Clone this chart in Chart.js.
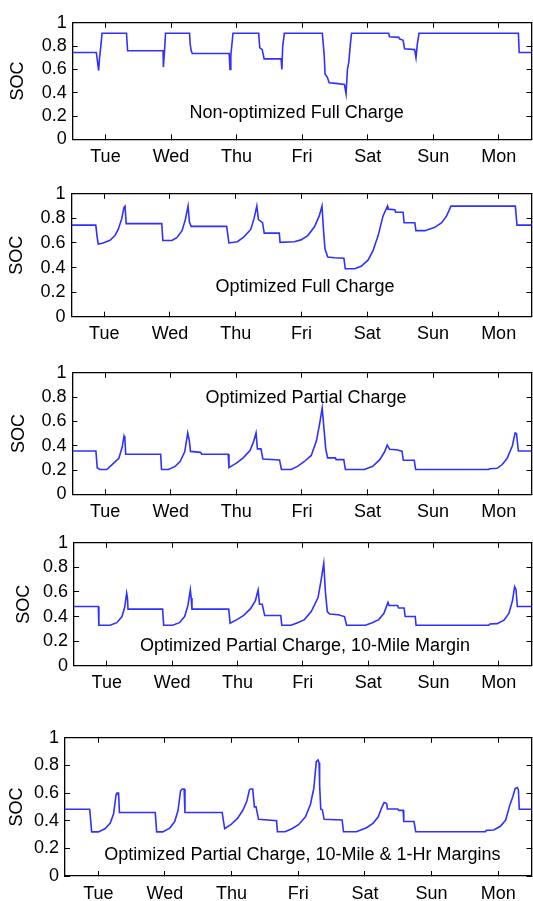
<!DOCTYPE html>
<html>
<head>
<meta charset="utf-8">
<script src="https://cdn.jsdelivr.net/npm/chart.js@4.4.1/dist/chart.umd.min.js"></script>
<style>
  html, body { margin: 0; padding: 0; background: #fff; }
  body { width: 533px; height: 901px; position: relative; overflow: hidden; }
  canvas { position: absolute; left: 0; }
</style>
</head>
<body>
<canvas id="c1"></canvas>
<canvas id="c2"></canvas>
<canvas id="c3"></canvas>
<canvas id="c4"></canvas>
<canvas id="c5"></canvas>
<script>
// week axis: hours from the start of the trace, one tick per day
const dayTicks = [12, 36, 60, 84, 108, 132, 156];
const dayLabels = ['Tue', 'Wed', 'Thu', 'Fri', 'Sat', 'Sun', 'Mon'];
const socTicks = [0, 0.2, 0.4, 0.6, 0.8, 1];

// non-optimized full charge
const hours1 = [0, 8.65, 8.9, 9.5, 9.8, 10.3, 10.75, 19.7, 20.1, 33.1, 33.2, 33.6, 34.0, 42.8, 43.0, 43.4, 43.8, 57.3, 57.6, 57.9, 58.7, 68.1, 68.5, 69.4, 70.1, 76.3, 76.6, 76.9, 77.5, 91.4, 92.1, 92.4, 93.3, 93.9, 96.4, 99.5, 100.1, 100.6, 101.1, 101.6, 102.1, 115.7, 116.0, 119.4, 119.8, 121.0, 121.5, 125.2, 125.7, 126.2, 126.8, 163.2, 163.5, 168];
const soc1 = [0.745, 0.745, 0.70, 0.59, 0.69, 0.8, 0.91, 0.91, 0.76, 0.76, 0.62, 0.75, 0.91, 0.91, 0.82, 0.76, 0.737, 0.737, 0.6, 0.72, 0.91, 0.91, 0.785, 0.77, 0.69, 0.69, 0.6, 0.8, 0.91, 0.91, 0.72, 0.56, 0.53, 0.485, 0.48, 0.47, 0.39, 0.6, 0.66, 0.8, 0.91, 0.91, 0.88, 0.875, 0.86, 0.85, 0.777, 0.77, 0.70, 0.82, 0.91, 0.91, 0.745, 0.745];

// optimized full charge
const hours2 = [0, 8.9, 9.4, 9.8, 11.6, 14.1, 15.9, 17.1, 18.4, 19.2, 19.6, 20.0, 33.0, 33.4, 36.7, 38.5, 40.4, 41.6, 42.6, 43.1, 43.7, 56.7, 57.5, 60.6, 63.0, 65.5, 66.7, 67.7, 68.3, 69.8, 70.4, 75.9, 76.2, 81.4, 83.8, 86.3, 88.7, 90.5, 91.5, 92.1, 92.6, 93.6, 96.0, 99.5, 100.0, 103.4, 105.8, 108.3, 110.1, 112.0, 113.8, 115.4, 115.6, 118.1, 118.4, 121.1, 121.5, 125.4, 125.8, 129.1, 132.7, 135.2, 137.0, 138.6, 162.1, 162.7, 168];
const soc2 = [0.745, 0.745, 0.65, 0.592, 0.6, 0.622, 0.66, 0.71, 0.8, 0.89, 0.9, 0.757, 0.757, 0.62, 0.62, 0.643, 0.70, 0.79, 0.9, 0.77, 0.735, 0.735, 0.6, 0.61, 0.65, 0.71, 0.8, 0.9, 0.79, 0.765, 0.68, 0.68, 0.605, 0.61, 0.625, 0.66, 0.73, 0.82, 0.9, 0.69, 0.55, 0.485, 0.48, 0.475, 0.39, 0.39, 0.41, 0.46, 0.535, 0.66, 0.82, 0.9, 0.875, 0.87, 0.85, 0.85, 0.765, 0.765, 0.70, 0.70, 0.727, 0.765, 0.82, 0.9, 0.9, 0.745, 0.745];

// optimized partial charge
const hours3 = [0, 8.6, 9.1, 10.1, 12.6, 15.1, 17.0, 18.2, 18.9, 19.2, 19.5, 32.3, 32.6, 35.1, 37.6, 39.4, 41.1, 42.2, 42.8, 43.2, 46.9, 47.3, 57.0, 57.3, 60.0, 62.5, 65.0, 66.2, 67.2, 67.7, 69.0, 69.7, 75.8, 76.5, 80.0, 82.4, 84.9, 87.4, 89.3, 90.5, 91.4, 92.2, 92.7, 93.4, 96.2, 96.5, 99.3, 99.9, 106.8, 109.9, 112.4, 114.2, 115.2, 116.1, 119.2, 119.6, 120.6, 121.1, 125.1, 125.6, 152.3, 152.6, 155.4, 157.3, 159.1, 161.0, 162.0, 162.5, 163.2, 168];
const soc3 = [0.356, 0.356, 0.217, 0.204, 0.204, 0.256, 0.296, 0.387, 0.48, 0.46, 0.33, 0.33, 0.204, 0.204, 0.23, 0.27, 0.35, 0.505, 0.44, 0.353, 0.345, 0.33, 0.33, 0.22, 0.256, 0.3, 0.36, 0.427, 0.505, 0.374, 0.374, 0.29, 0.283, 0.204, 0.204, 0.23, 0.27, 0.32, 0.44, 0.584, 0.71, 0.505, 0.374, 0.3, 0.3, 0.285, 0.285, 0.204, 0.204, 0.23, 0.283, 0.348, 0.405, 0.37, 0.365, 0.36, 0.355, 0.28, 0.28, 0.204, 0.204, 0.21, 0.214, 0.245, 0.296, 0.4, 0.505, 0.5, 0.356, 0.356];

// optimized partial charge, 10-mile margin
const hours4 = [0, 8.9, 9.1, 13.2, 15.7, 17.6, 18.6, 19.3, 19.6, 19.8, 32.5, 32.9, 36.2, 38.7, 40.6, 41.8, 42.7, 43.0, 43.3, 56.8, 57.3, 59.8, 62.3, 64.8, 66.6, 67.6, 68.1, 69.1, 70.0, 75.9, 76.3, 79.7, 82.1, 84.6, 87.1, 89.6, 90.8, 91.7, 92.3, 93.0, 93.9, 97.0, 99.3, 100.1, 107.0, 109.5, 111.9, 113.8, 115.3, 115.7, 118.8, 119.2, 121.2, 121.6, 125.3, 125.6, 152.3, 152.7, 155.4, 157.9, 159.7, 161.0, 161.8, 162.3, 162.8, 168];
const soc4 = [0.482, 0.482, 0.329, 0.329, 0.35, 0.40, 0.477, 0.59, 0.55, 0.46, 0.46, 0.329, 0.329, 0.35, 0.40, 0.49, 0.617, 0.55, 0.46, 0.46, 0.345, 0.375, 0.41, 0.464, 0.53, 0.617, 0.5, 0.5, 0.408, 0.408, 0.329, 0.329, 0.35, 0.375, 0.44, 0.554, 0.707, 0.834, 0.6, 0.44, 0.42, 0.415, 0.40, 0.329, 0.329, 0.35, 0.375, 0.426, 0.515, 0.49, 0.49, 0.47, 0.47, 0.40, 0.40, 0.329, 0.329, 0.34, 0.342, 0.37, 0.426, 0.528, 0.643, 0.62, 0.482, 0.482];

// optimized partial charge, 10-mile & 1-hr margins
const hours5 = [0, 8.9, 9.6, 12.0, 14.4, 16.3, 17.5, 18.4, 18.7, 19.3, 19.6, 32.5, 33.0, 35.2, 37.7, 39.5, 40.7, 41.6, 42.2, 42.9, 43.2, 56.6, 57.5, 59.7, 62.1, 64.0, 65.5, 66.4, 66.8, 67.6, 68.2, 68.8, 69.7, 76.2, 76.5, 79.2, 81.7, 84.1, 86.6, 88.4, 89.6, 90.5, 91.1, 91.5, 91.7, 92.1, 92.7, 93.3, 99.8, 100.3, 104.9, 108.6, 111.0, 112.8, 114.1, 114.9, 115.4, 115.9, 116.1, 119.8, 120.2, 121.8, 122.0, 125.7, 126.3, 151.4, 151.7, 154.4, 156.8, 158.7, 160.3, 161.3, 162.1, 162.9, 163.3, 163.6, 168];
const soc5 = [0.483, 0.483, 0.319, 0.319, 0.342, 0.383, 0.45, 0.59, 0.6, 0.6, 0.46, 0.46, 0.319, 0.319, 0.346, 0.394, 0.474, 0.615, 0.63, 0.63, 0.46, 0.46, 0.342, 0.371, 0.417, 0.474, 0.542, 0.622, 0.63, 0.63, 0.5, 0.5, 0.41, 0.40, 0.32, 0.32, 0.342, 0.371, 0.428, 0.519, 0.633, 0.827, 0.84, 0.82, 0.656, 0.485, 0.478, 0.41, 0.405, 0.32, 0.32, 0.349, 0.383, 0.428, 0.497, 0.531, 0.53, 0.52, 0.485, 0.485, 0.475, 0.475, 0.394, 0.394, 0.32, 0.32, 0.33, 0.333, 0.36, 0.405, 0.52, 0.576, 0.633, 0.64, 0.62, 0.483, 0.483];

const captions = [
  'Non-optimized Full Charge',
  'Optimized Full Charge',
  'Optimized Partial Charge',
  'Optimized Partial Charge, 10-Mile Margin',
  'Optimized Partial Charge, 10-Mile & 1-Hr Margins'
];

// plot box of each panel on the page (px) and where its caption sits (hours, SOC)
const panels = [
  { id: 'c1', hours: hours1, soc: soc1, top: 15,  bottom: 139.3, left: 72.7, socX: 18, note: [82, 0.222] },
  { id: 'c2', hours: hours2, soc: soc2, top: 186, bottom: 316.7, left: 71.4, socX: 17, note: [85.3, 0.243] },
  { id: 'c3', hours: hours3, soc: soc3, top: 365, bottom: 494.3, left: 72.4, socX: 19, note: [85.5, 0.793] },
  { id: 'c4', hours: hours4, soc: soc4, top: 535, bottom: 665.7, left: 74.1, socX: 24, note: [84.8, 0.158] },
  { id: 'c5', hours: hours5, soc: soc5, top: 730, bottom: 876,   left: 65,   socX: 17, note: [85.5, 0.15] }
];

const PAGE_W = 533;
const PLOT_RIGHT = 531.5;
const FONT = '"Liberation Sans", Arial, Helvetica, sans-serif';

Chart.defaults.font.family = FONT;
Chart.defaults.font.size = 18;
Chart.defaults.color = '#000';

// caption text inside the axes, placed in data coordinates
const notePlugin = {
  id: 'note',
  afterDatasetsDraw(chart, args, opts) {
    const { ctx, scales } = chart;
    ctx.save();
    ctx.font = '18px ' + FONT;
    ctx.fillStyle = '#000';
    ctx.textAlign = 'center';
    ctx.textBaseline = 'middle';
    ctx.fillText(opts.text, scales.x.getPixelForValue(opts.at[0]), scales.y.getPixelForValue(opts.at[1]));
    ctx.restore();
  }
};

const edge = { color: '#000', width: 1.3 };
const inwardTicks = { drawOnChartArea: false, color: '#000', lineWidth: 1, tickLength: -5 };

panels.forEach((p, i) => {
  const canvas = document.getElementById(p.id);
  const canvasTop = Math.round(p.top) - 14;
  const canvasH = Math.round(p.bottom - p.top) + 14 + 32;
  canvas.width = PAGE_W;
  canvas.height = canvasH;
  canvas.style.top = canvasTop + 'px';

  const topPad = p.top - canvasTop;
  const bottomPad = canvasH - (p.bottom - canvasTop);

  new Chart(canvas, {
    type: 'line',
    data: {
      datasets: [{
        data: p.hours.map((h, k) => ({ x: h, y: p.soc[k] })),
        borderColor: '#3030ff',
        borderWidth: 1.6,
        pointRadius: 0,
        tension: 0,
        fill: false
      }]
    },
    options: {
      responsive: false,
      animation: false,
      layout: { padding: 0 },
      plugins: {
        legend: { display: false },
        tooltip: { enabled: false },
        note: { text: captions[i], at: p.note }
      },
      scales: {
        x: {
          type: 'linear', position: 'bottom', min: 0, max: 168,
          afterBuildTicks: s => { s.ticks = dayTicks.map(v => ({ value: v })); },
          afterFit: s => { s.height = bottomPad; },
          ticks: {
            autoSkip: false, maxRotation: 0, padding: 12,
            callback: v => dayLabels[dayTicks.indexOf(v)]
          },
          grid: inwardTicks,
          border: edge
        },
        x2: {
          type: 'linear', position: 'top', min: 0, max: 168,
          afterBuildTicks: s => { s.ticks = dayTicks.map(v => ({ value: v })); },
          afterFit: s => { s.height = topPad; },
          ticks: { display: false, autoSkip: false },
          grid: inwardTicks,
          border: edge
        },
        y: {
          type: 'linear', position: 'left', min: 0, max: 1,
          afterBuildTicks: s => { s.ticks = socTicks.map(v => ({ value: v })); },
          afterFit: s => { s.width = p.left; },
          ticks: { autoSkip: false, padding: 11, callback: v => String(v) },
          title: { display: true, text: 'SOC', padding: { top: p.socX - 10.8, bottom: 0 } },
          grid: inwardTicks,
          border: edge
        },
        y2: {
          type: 'linear', position: 'right', min: 0, max: 1,
          afterBuildTicks: s => { s.ticks = socTicks.map(v => ({ value: v })); },
          afterFit: s => { s.width = PAGE_W - PLOT_RIGHT; },
          ticks: { display: false, autoSkip: false },
          grid: inwardTicks,
          border: edge
        }
      }
    },
    plugins: [notePlugin]
  });
});
</script>
</body>
</html>
